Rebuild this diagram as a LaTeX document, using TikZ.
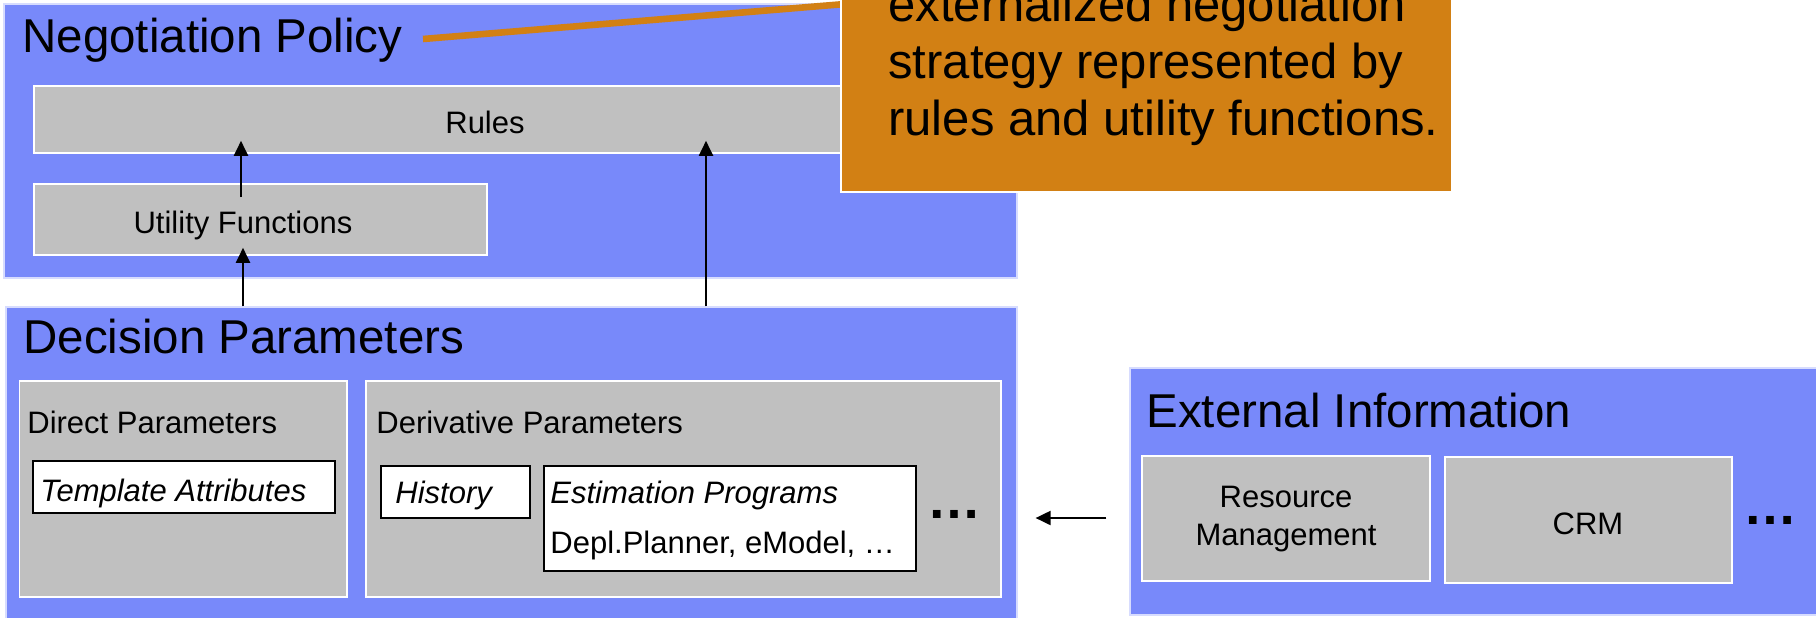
\documentclass[tikz,border=0pt]{standalone}
\usepackage{fontspec}
\setmainfont{Liberation Sans}
\usetikzlibrary{arrows.meta,fit}
\definecolor{panelblue}{RGB}{120,137,250}
\definecolor{boxgray}{RGB}{192,192,192}
\definecolor{noteorange}{RGB}{210,128,20}
\begin{document}
\begin{tikzpicture}[x=0.5pt,y=-0.5pt,
  panel/.style={draw=white!70!panelblue, line width=0.6pt, fill=panelblue, inner sep=0pt},
  graybox/.style={draw=white, line width=0.8pt, fill=boxgray, inner sep=0pt},
  whitebox/.style={draw=black, line width=1pt, fill=white, inner sep=0pt},
  heading/.style={font=\fontsize{23.75}{28}\selectfont, inner sep=0pt, anchor=base west},
  small/.style={font=\fontsize{15.5}{19}\selectfont, inner sep=0pt},
  smallleft/.style={small, anchor=base west},
  more/.style={font=\fontsize{27}{30}\selectfont\bfseries, inner sep=0pt, anchor=base},
  flow/.style={draw=black, line width=1pt, -{Triangle[length=7.5pt,width=7pt]}},
  pointer/.style={draw=noteorange, line width=3.3pt}
]
\useasboundingbox (0,0) rectangle (1816,617);
\clip (0,0) rectangle (1816,617);

% Negotiation Policy panel
\node[panel, fit={(4,4) (1017,278)}] (np) {};
\node[heading] (nptitle) at (22,52) {Negotiation Policy};
\node[graybox, fit={(34,86) (936,153)}] (rules) {};
\node[small, anchor=base] (rulestxt) at (485,133) {Rules};
\node[graybox, fit={(34,184) (487,255)}] (util) {};
\node[small, anchor=base] (utiltxt) at (243,233) {Utility Functions};

% Decision Parameters panel
\node[panel, fit={(6,307) (1017,625)}] (dp) {};
\node[heading] (dptitle) at (23,353) {Decision Parameters};
\node[graybox, fit={(19.5,381) (347,597)}] (direct) {};
\node[smallleft] (directtxt) at (27,433) {Direct Parameters};
\node[whitebox, fit={(32.5,461) (335,513)}] (templ) {};
\node[smallleft] (templtxt) at (40,501) {\itshape Template Attributes};
\node[graybox, fit={(366,381) (1001,597)}] (deriv) {};
\node[smallleft] (derivtxt) at (376,433) {Derivative Parameters};
\node[whitebox, fit={(381,466) (530,518)}] (hist) {};
\node[smallleft] (histtxt) at (395,503) {\itshape History};
\node[whitebox, fit={(544,466) (916,571)}] (estim) {};
\node[smallleft] (estimtxt) at (550,503) {\itshape Estimation Programs};
\node[smallleft] (estimlist) at (550,553) {Depl.Planner, eModel, …};
\node[more] (dpmore) at (954,518) {…};

% External Information panel
\node[panel, fit={(1130,368) (1830,615)}] (ext) {};
\node[heading] (exttitle) at (1146,427) {External Information};
\node[graybox, fit={(1142,456) (1430,581)}] (resmgmt) {};
% the base anchor of a multi-line node sits on its last line
\node[small, align=center, anchor=base] (resmgmttxt) at (1286,545) {Resource\\Management};
\node[graybox, fit={(1445,457) (1732,583)}] (crm) {};
\node[small, anchor=base] (crmtxt) at (1588,534) {CRM};
\node[more] (extmore) at (1770,524.5) {…};

% Flows between the parts
\coordinate (colA) at (241,0);
\coordinate (colB) at (243,0);
\coordinate (colC) at (706,0);
\coordinate (row) at (0,518);
\draw[flow] ([yshift=-7pt]util.north -| colA) -- ([yshift=6.5pt]rules.south -| colA);
\draw[flow] (dp.north -| colB) -- ([yshift=4pt]util.south -| colB);
\draw[flow] (dp.north -| colC) -- ([yshift=6.5pt]rules.south -| colC);
\draw[flow] ([xshift=-11.5pt]ext.west |- row) -- ([xshift=9pt]dp.east |- row);

% Annotation box with its pointer
\coordinate (ptr) at (423,39);
\coordinate (ptrend) at (845,4);
\draw[pointer] (ptr) -- (ptrend);
\node[fill=noteorange, draw=white, line width=1pt, inner sep=0pt, fit={(841,-30) (1452,192)}] (note) {};
\node[anchor=base west, align=left, inner sep=0pt, font=\fontsize{24.5}{28.5}\selectfont] (notetxt) at (888,135)
  {externalized negotiation\\strategy represented by\\rules and utility functions.};
\end{tikzpicture}
\end{document}
